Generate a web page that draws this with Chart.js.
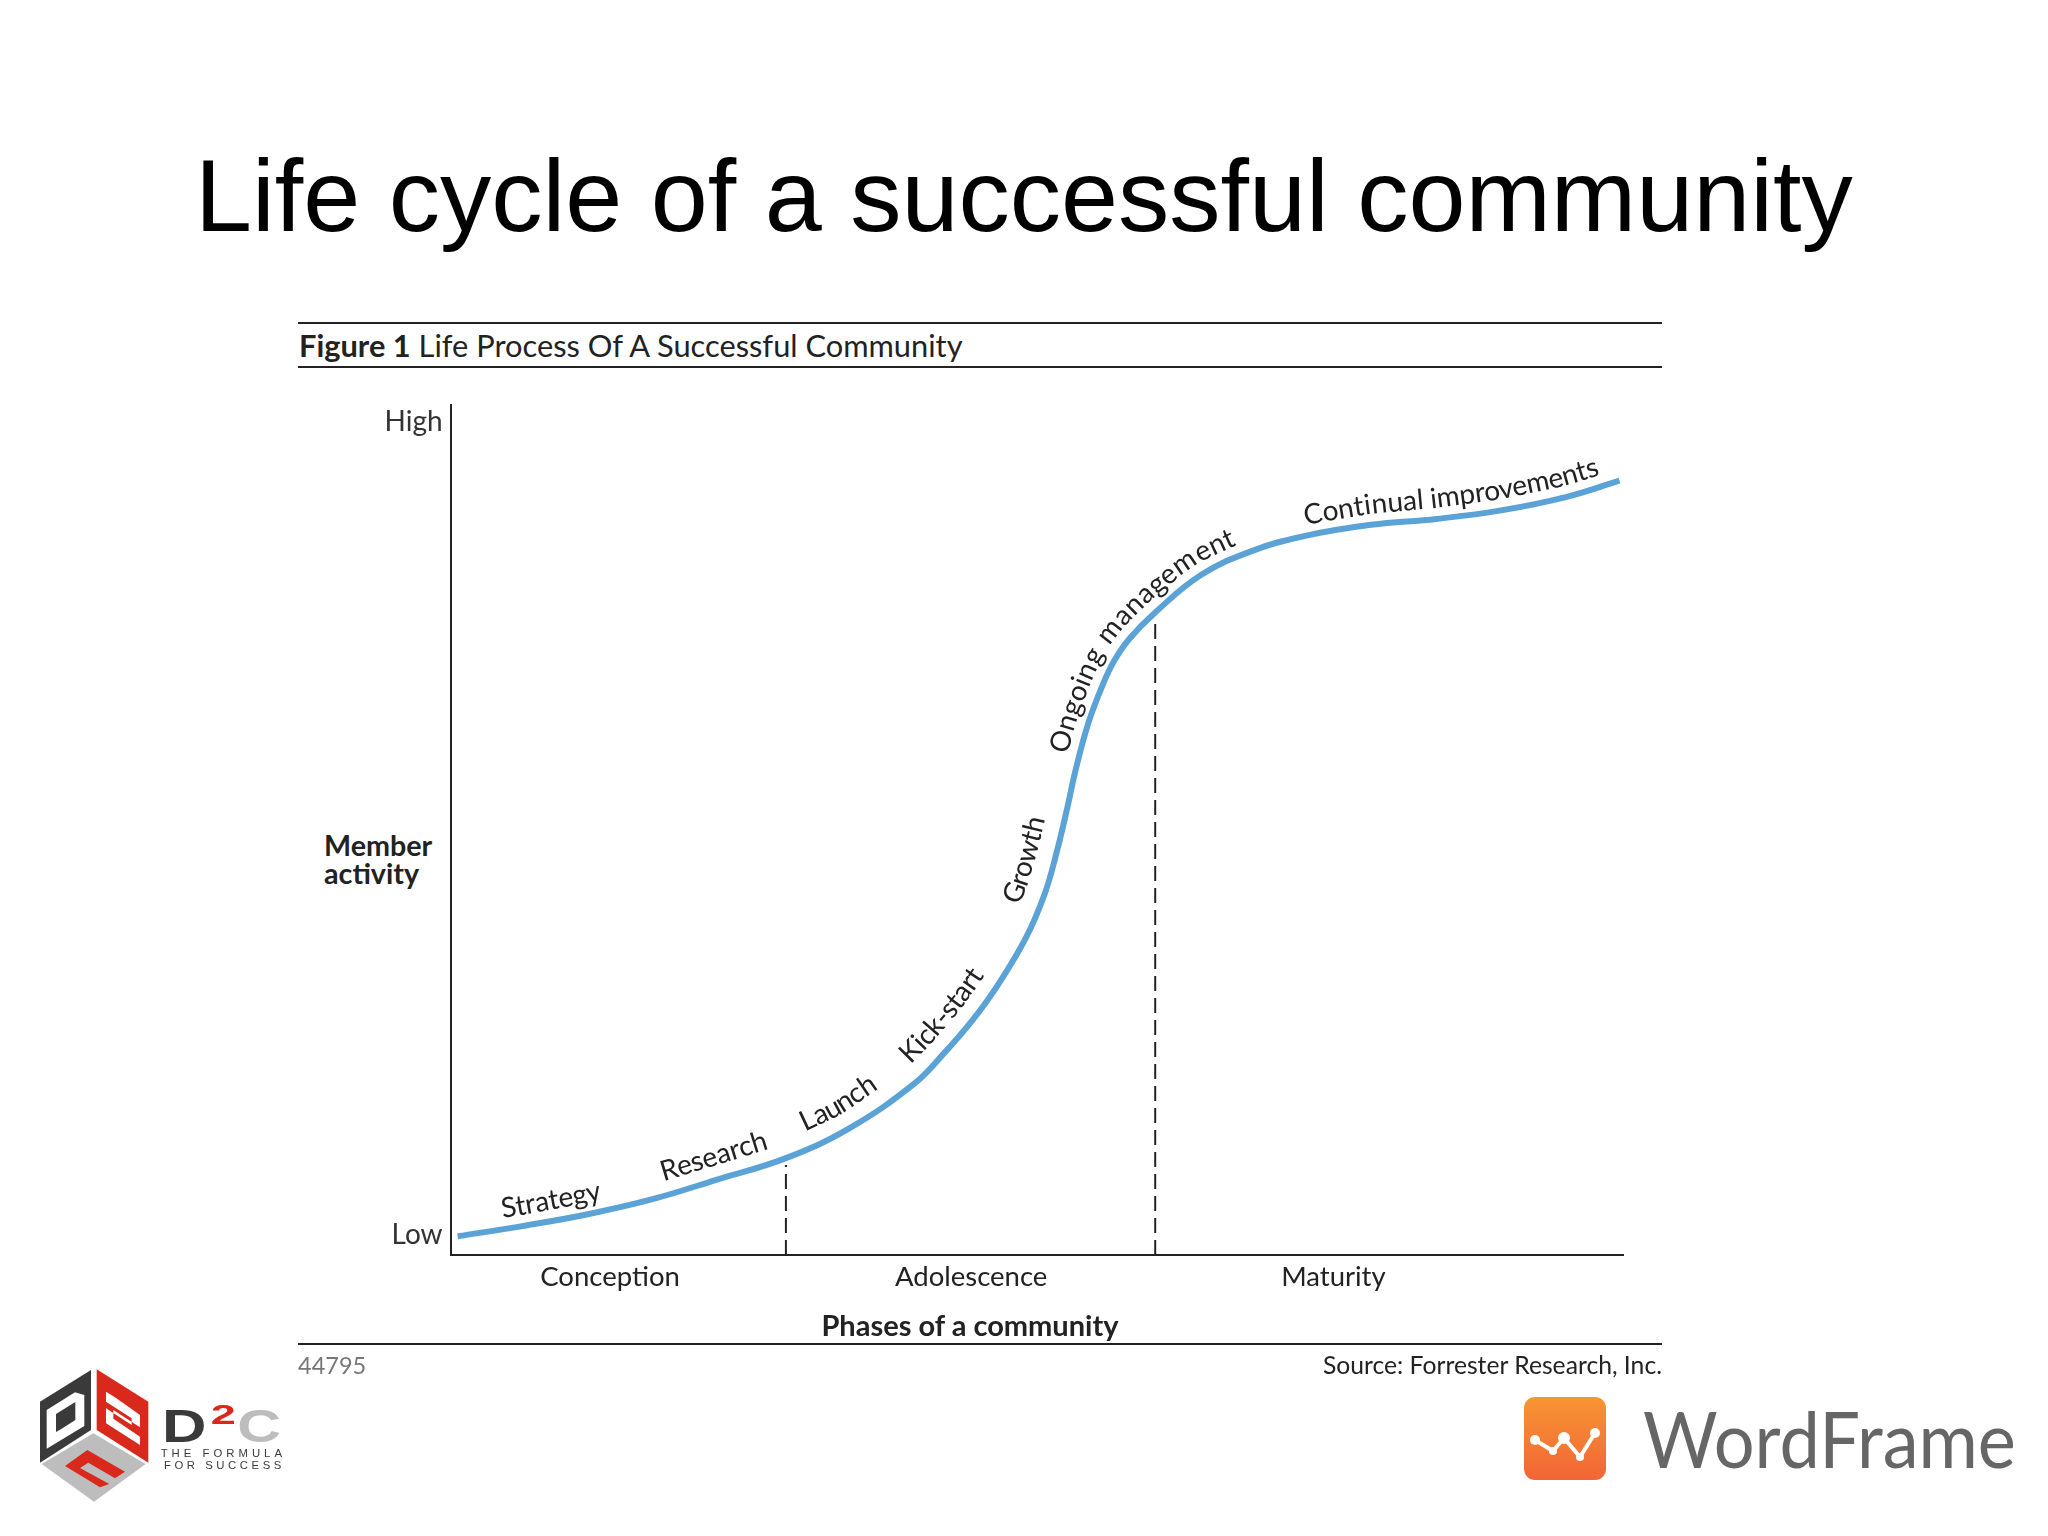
<!DOCTYPE html>
<html lang="en">
<head>
  <meta charset="UTF-8">
  <title>Life cycle of a successful community</title>
  <script src="https://cdn.jsdelivr.net/npm/chart.js"></script>
  <style>
    html, body { margin: 0; background: #fff; }
    body { width: 2048px; height: 1536px; position: relative; overflow: hidden; font-family: Lato, sans-serif; color: #222; }
    .abs { position: absolute; white-space: nowrap; }
    .rule { position: absolute; left: 298px; width: 1364px; height: 2px; background: #222; }
    #slideTitle { left: 195px; top: 145px; font: 102.5px/1 "Liberation Sans", Arial, sans-serif; color: #000; }
    #figTitle { left: 299px; top: 345px; transform: translateY(-50%); font-size: 30.8px; }
    #memberLabel { left: 324px; top: 831px; font-size: 28.7px; font-weight: 700; line-height: 28px; }
    #phasesLabel { left: 970px; top: 1324px; transform: translate(-50%, -50%); font-size: 29px; font-weight: 700; }
    #figId { left: 298px; top: 1365px; transform: translateY(-50%); font-size: 23.5px; color: #777; }
    #source { right: 386px; top: 1364px; transform: translateY(-50%); font-size: 24.7px; }
    #wfName { left: 1643px; top: 1438px; transform: translateY(-50%) scaleX(.925); transform-origin: left center; font-size: 78px; color: #666; }
    canvas { position: absolute; left: 298px; top: 395px; }
    svg { position: absolute; }
  </style>
</head>
<body>
  <div class="abs" id="slideTitle">Life cycle of a successful community</div>
  <div class="rule" style="top:322px"></div>
  <div class="abs" id="figTitle"><b>Figure 1</b> Life Process Of A Successful Community</div>
  <div class="rule" style="top:366px"></div>
  <div class="abs" id="memberLabel">Member<br>activity</div>

  <canvas id="lifeChart" width="1340" height="970"></canvas>

  <div class="abs" id="phasesLabel">Phases of a community</div>
  <div class="rule" style="top:1343px"></div>
  <div class="abs" id="figId">44795</div>
  <div class="abs" id="source">Source: Forrester Research, Inc.</div>

  <!-- D2C logo -->
  <svg style="left:0;top:1340px" width="320" height="196" viewBox="0 0 960 588">
    <polygon points="120,185 273,90 273,270 120,368" fill="#3a3a3a"/>
    <polygon points="140,210 225,157 253,165 253,258 140,326" fill="#fff"/>
    <polygon points="168,222 226,186 226,240 185,266 168,276" fill="#3a3a3a"/>
    <polygon points="290,88 445,185 445,368 290,270" fill="#d9291c"/>
    <path d="M318,155 L345,172 L420,225 L420,262 L340,210 L340,236 L420,290 L420,315 L318,250 L318,205 L395,255 L395,235 L318,185 Z" fill="#fff"/>
    <polygon points="125,372 280,280 437,372 282,485" fill="#bdbdbd"/>
    <path d="M195,378 L262,330 L375,395 L345,415 L265,368 L240,384 L328,432 L300,442 Z" fill="#d9291c"/>
    <text transform="translate(486,306) scale(1.33,1)" font-family="Liberation Sans" font-weight="700" font-size="139" fill="#3a3a3a">D</text>
    <text transform="translate(632,252) scale(1.65,1)" font-family="Liberation Sans" font-weight="700" font-size="82" fill="#d9291c">2</text>
    <text transform="translate(712,306) scale(1.31,1)" font-family="Liberation Sans" font-weight="700" font-size="139" fill="#bdbdbd">C</text>
    <text x="482" y="350" font-family="Liberation Sans" font-size="34" fill="#3a3a3a" textLength="364">THE FORMULA</text>
    <text x="492" y="387" font-family="Liberation Sans" font-size="34" fill="#3a3a3a" textLength="352">FOR SUCCESS</text>
  </svg>

  <!-- WordFrame logo -->
  <svg style="left:1524px;top:1397px" width="82" height="83" viewBox="0 0 82 83">
    <defs>
      <linearGradient id="wfGrad" x1="0" y1="0" x2="0" y2="1">
        <stop offset="0" stop-color="#f79533"/>
        <stop offset="1" stop-color="#f26536"/>
      </linearGradient>
    </defs>
    <rect width="82" height="83" rx="11" fill="url(#wfGrad)"/>
    <polyline points="11,43 29,54 40,41 56,60 71,36" fill="none" stroke="#fff" stroke-width="4" stroke-linejoin="round"/>
    <circle cx="11" cy="43" r="5" fill="#fff"/>
    <circle cx="29" cy="54" r="4" fill="#fff"/>
    <circle cx="40" cy="41" r="6" fill="#fff"/>
    <circle cx="56" cy="60" r="4" fill="#fff"/>
    <circle cx="71" cy="36" r="5" fill="#fff"/>
  </svg>
  <div class="abs" id="wfName">WordFrame</div>

  <script>
    // curve, x = phase progress, y = member activity (both 0-100)
    const curveX = [0.6, 6.1, 11.7, 17.3, 22.8, 28.6, 34.0, 39.5, 42.0, 44.5, 46.6, 49.1, 50.7, 51.7, 52.6,
                    53.3, 54.4, 55.6, 56.6, 57.9, 60.1, 64.0, 68.5, 72.9, 78.5, 84.1, 89.6, 95.2, 99.7];
    const curveY = [2.2, 3.4, 4.8, 6.6, 8.9, 11.4, 14.9, 20.1, 23.6, 27.6, 31.6, 37.4, 42.6, 47.4, 52.6,
                    57.0, 62.6, 67.0, 69.9, 72.5, 75.6, 80.0, 82.9, 84.6, 85.9, 86.6, 87.6, 89.2, 91.1];

    const phaseNames = ['Conception', 'Adolescence', 'Maturity'];
    const phaseCenters = [13.6, 44.4, 75.3];
    const activityLabels = ['Low', 'High'];
    const activityTicks = [2.4, 98.0];

    // phase boundaries: x position and how far up the dashes go
    const boundaryX = [28.6, 60.1];
    const boundaryTop = [10.6, 75.0];

    const stageNames = ['Strategy', 'Research', 'Launch', 'Kick-start', 'Growth', 'Ongoing management', 'Continual improvements'];
    const stageStartX = [4.6, 18.5, 30.8, 40.2, 50.0, 53.6, 73.1];
    const stageGap = [11, 14, 16, 16, 19, 12, 11];

    const LABEL_FONT = '28px Lato, sans-serif';
    const TEXT_COLOR = '#222';

    // writes each stage name letter by letter along the curve
    const stageLabelPlugin = {
      id: 'stageLabels',
      afterDatasetsDraw(chart) {
        const { ctx, scales } = chart;
        const path = curveX.map((x, i) => ({ x: scales.x.getPixelForValue(x), y: scales.y.getPixelForValue(curveY[i]) }));
        const lengths = [0];
        for (let i = 1; i < path.length; i++) {
          lengths.push(lengths[i - 1] + Math.hypot(path[i].x - path[i - 1].x, path[i].y - path[i - 1].y));
        }
        const pointAt = s => {
          let i = 1;
          while (i < path.length - 1 && lengths[i] < s) i++;
          const t = (s - lengths[i - 1]) / (lengths[i] - lengths[i - 1]);
          return { x: path[i - 1].x + (path[i].x - path[i - 1].x) * t, y: path[i - 1].y + (path[i].y - path[i - 1].y) * t };
        };
        const lengthAtX = px => {
          let i = 1;
          while (i < path.length - 1 && path[i].x < px) i++;
          return lengths[i - 1] + (lengths[i] - lengths[i - 1]) * (px - path[i - 1].x) / (path[i].x - path[i - 1].x);
        };

        ctx.save();
        ctx.font = LABEL_FONT;
        ctx.fillStyle = TEXT_COLOR;
        ctx.textAlign = 'center';
        stageNames.forEach((name, n) => {
          let s = lengthAtX(scales.x.getPixelForValue(stageStartX[n]));
          for (let c = 0; c < name.length; c++) {
            const w = ctx.measureText(name.slice(0, c + 1)).width - ctx.measureText(name.slice(0, c)).width;
            const a = pointAt(s - 10);
            const b = pointAt(s + w + 10);
            const angle = Math.atan2(b.y - a.y, b.x - a.x);
            const mid = pointAt(s + w / 2);
            ctx.save();
            ctx.translate(mid.x + Math.sin(angle) * stageGap[n], mid.y - Math.cos(angle) * stageGap[n]);
            ctx.rotate(angle);
            ctx.fillText(name[c], 0, 0);
            ctx.restore();
            s += w;
          }
        });
        ctx.restore();
      }
    };

    const boundaryDatasets = boundaryX.map((x, i) => ({
      data: [{ x: x, y: 0 }, { x: x, y: boundaryTop[i] }],
      borderColor: '#222',
      borderWidth: 2,
      borderDash: [15, 7],
      pointRadius: 0
    }));

    new Chart(document.getElementById('lifeChart'), {
      type: 'line',
      data: {
        datasets: [{
          data: curveX.map((x, i) => ({ x: x, y: curveY[i] })),
          borderColor: '#5ba3d6',
          borderWidth: 6,
          tension: 0.4,
          pointRadius: 0
        }, ...boundaryDatasets]
      },
      plugins: [stageLabelPlugin],
      options: {
        responsive: false,
        animation: false,
        devicePixelRatio: 1,
        layout: { padding: { top: 10, right: 15, bottom: 0, left: 0 } },
        plugins: { legend: { display: false }, tooltip: { enabled: false } },
        scales: {
          x: {
            type: 'linear',
            min: 0,
            max: 100,
            grid: { display: false, drawTicks: false },
            border: { color: '#222', width: 2 },
            afterBuildTicks: scale => { scale.ticks = phaseCenters.map(v => ({ value: v })); },
            afterFit: scale => { scale.height = 110; },
            ticks: {
              autoSkip: false,
              maxRotation: 0,
              padding: 6,
              color: TEXT_COLOR,
              font: { family: 'Lato', size: 27.5 },
              callback: v => phaseNames[phaseCenters.indexOf(v)]
            }
          },
          y: {
            min: 0,
            max: 100,
            grid: { display: false, drawTicks: false },
            border: { color: '#222', width: 2 },
            afterBuildTicks: scale => { scale.ticks = activityTicks.map(v => ({ value: v })); },
            afterFit: scale => {
              scale.width = 152.6;
              scale.paddingTop = 0;
              scale.paddingBottom = 0;
            },
            ticks: {
              autoSkip: false,
              padding: 8,
              color: '#333',
              font: { family: 'Lato', size: 28 },
              callback: v => activityLabels[activityTicks.indexOf(v)]
            }
          }
        }
      }
    });
  </script>
</body>
</html>
